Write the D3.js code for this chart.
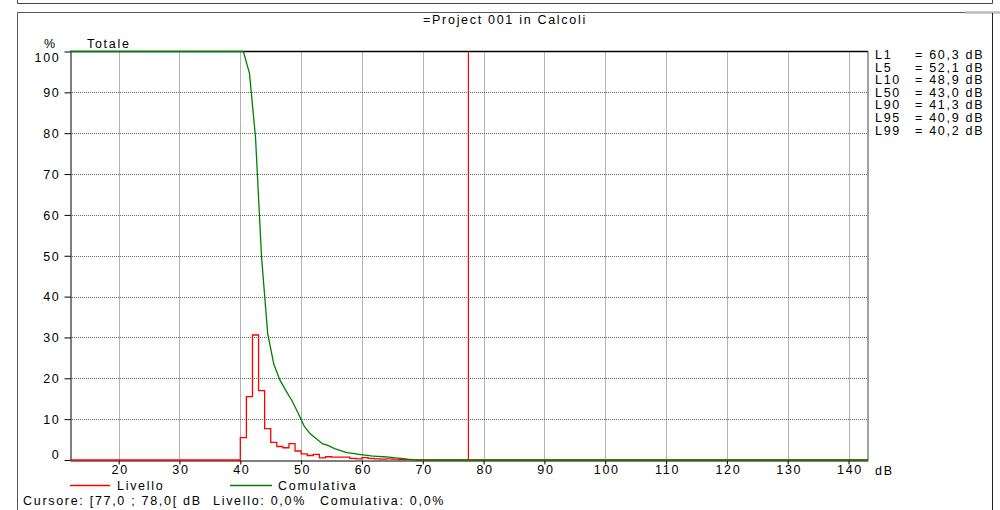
<!DOCTYPE html>
<html>
<head>
<meta charset="utf-8">
<script src="https://cdn.jsdelivr.net/npm/d3@7"></script>
<style>
body { margin: 0; background: #fff; }
svg { display: block; font-family: "Liberation Sans", Arial, sans-serif; }
text { font-size: 12.5px; letter-spacing: 1.7px; fill: #000; white-space: pre; }
</style>
</head>
<body>
<svg id="chart" width="1000" height="510"></svg>
<script>
// livello: percentuale per classe di 1 dB (inizio classe)
var binStart = [40, 41, 42, 43, 44, 45, 46, 47, 48, 49, 50, 51, 52, 53, 54, 55, 56, 57, 58, 59, 60, 61, 62, 63, 64, 65, 66, 67, 68, 69];
var livello = [5.5, 15.5, 30.6, 17.0, 7.7, 4.3, 3.3, 3.0, 4.0, 2.2, 1.5, 1.1, 1.4, 0.5, 0.8, 0.7, 0.7, 0.7, 0.4, 0.3, 0.6, 0.4, 0.3, 0.2, 0.3, 0.2, 0.1, 0.1, 0.1, 0];
// comulativa: letta a centro classe
var cumX = [12, 40.5, 41.5, 42.5, 43.5, 44.5, 45.5, 46.5, 47.5, 48.5, 49.5, 50.5, 51.5, 52.5, 53.5, 54.5, 55.5, 56.5, 57.5, 58.5, 59.5, 60.5, 61.5, 62.5, 63.5, 64.5, 65.5, 66.5, 67.5, 68.5, 69.5, 70.5, 143.2];
var comulativa = [100, 100, 94.7, 79, 49.5, 31, 23.5, 19.6, 17, 14.5, 11.5, 8.3, 6.4, 5.2, 4.0, 3.5, 2.8, 2.3, 1.8, 1.6, 1.4, 1.2, 1.0, 0.9, 0.8, 0.7, 0.5, 0.4, 0.2, 0.1, 0.05, 0, 0];
var xTicks = [20, 30, 40, 50, 60, 70, 80, 90, 100, 110, 120, 130, 140];
var yTicks = [0, 10, 20, 30, 40, 50, 60, 70, 80, 90, 100];
var lNames = ["L1", "L5", "L10", "L50", "L90", "L95", "L99"];
var lValues = ["60,3", "52,1", "48,9", "43,0", "41,3", "40,9", "40,2"];
var cursore = 77.5;

var svg = d3.select('#chart');

var xScale = d3.scaleLinear().domain([12, 143.2]).range([70, 868]);
var yScale = d3.scaleLinear().domain([0, 100]).range([460, 51.5]);

// cornici
svg.append('path').attr('d', 'M17.5,0 V3.5 H992.5 V0').attr('fill', 'none').attr('stroke', '#444');
svg.append('path').attr('d', 'M17.5,515 V12.5 H965').attr('fill', 'none').attr('stroke', '#555');
svg.append('path').attr('d', 'M965,12.5 H1000').attr('fill', 'none').attr('stroke', '#bbb').attr('stroke-width', 2.5);
svg.append('path').attr('d', 'M992.5,13 V515').attr('fill', 'none').attr('stroke', '#222');

svg.append('text').attr('x', 505).attr('y', 24).attr('text-anchor', 'middle').text('=Project 001 in Calcoli');

// griglia
var grid = svg.append('g');
grid.selectAll('.gy').data(yTicks.filter(d => d > 0 && d < 100)).enter().append('line')
    .attr('x1', 70).attr('x2', 868)
    .attr('y1', d => Math.round(yScale(d)) + 0.5).attr('y2', d => Math.round(yScale(d)) + 0.5)
    .attr('stroke', '#666').attr('stroke-dasharray', '1,1');
grid.selectAll('.gx').data(xTicks).enter().append('line')
    .attr('y1', 51.5).attr('y2', 460)
    .attr('x1', d => Math.round(xScale(d)) + 0.5).attr('x2', d => Math.round(xScale(d)) + 0.5)
    .attr('stroke', '#666').attr('stroke-dasharray', '1,1');

// assi
var xAxis = d3.axisBottom(xScale).tickValues(xTicks).tickSize(4).tickSizeOuter(0).tickFormat(d3.format('d'));
var xAxisGroup = svg.append('g').attr('transform', 'translate(0,460.5)').call(xAxis);
xAxisGroup.select('.domain').attr('stroke', '#000');
xAxisGroup.selectAll('text').attr('y', 5).attr('dy', '0.71em').attr('dx', 1);

var yAxis = d3.axisLeft(yScale).tickValues(yTicks).tickSize(6).tickSizeOuter(0);
var yAxisGroup = svg.append('g').attr('transform', 'translate(70.5,0)').call(yAxis);
yAxisGroup.select('.domain').attr('stroke', '#000');
yAxisGroup.selectAll('text').attr('x', -10)
    .attr('dy', d => d === 100 ? '0.8em' : (d === 0 ? '-0.15em' : '0.35em'));
yAxisGroup.selectAll('line').attr('stroke', '#000');

svg.append('line').attr('x1', 70).attr('x2', 868).attr('y1', 51.5).attr('y2', 51.5).attr('stroke', '#000').attr('stroke-width', 1.5);
svg.append('line').attr('x1', 868).attr('x2', 868).attr('y1', 51.5).attr('y2', 460).attr('stroke', '#444');

svg.append('text').attr('x', 44).attr('y', 48).text('%');
svg.append('text').attr('x', 87).attr('y', 48).text('Totale');
svg.append('text').attr('x', 875).attr('y', 475).text('dB');

// serie
var stepData = [[12, 0]].concat(binStart.map((d, i) => [d, livello[i]])).concat([[70, 0], [143.2, 0]]);
var redLine = d3.line().x(d => xScale(d[0])).y(d => yScale(d[1])).curve(d3.curveStepAfter);
svg.append('path').datum(stepData).attr('d', redLine)
    .attr('fill', 'none').attr('stroke', '#ff0000').attr('stroke-width', 1.3);

var greenLine = d3.line().x(d => xScale(d[0])).y(d => yScale(d[1]));
svg.append('path').datum(cumX.map((d, i) => [d, comulativa[i]])).attr('d', greenLine)
    .attr('fill', 'none').attr('stroke', '#008000').attr('stroke-width', 1.3);

svg.append('line').attr('x1', xScale(cursore)).attr('x2', xScale(cursore))
    .attr('y1', 51.5).attr('y2', 460).attr('stroke', '#ff0000').attr('stroke-width', 1.2);

// valori L
var lg = svg.append('g');
lNames.forEach(function(n, i) {
    lg.append('text').attr('x', 875).attr('y', 59 + i * 12.6).text(n);
    lg.append('text').attr('x', 915).attr('y', 59 + i * 12.6).text('= ' + lValues[i] + ' dB');
});

// legenda
svg.append('path').attr('d', 'M70,485.5 H110').attr('fill', 'none')
    .attr('stroke', '#ff0000').attr('stroke-width', 1.5);
svg.append('text').attr('x', 117).attr('y', 490).text('Livello');
svg.append('path').attr('d', 'M230,485.5 H272').attr('fill', 'none')
    .attr('stroke', '#008000').attr('stroke-width', 1.5);
svg.append('text').attr('x', 278).attr('y', 490).text('Comulativa');
svg.append('text').attr('x', 23).attr('y', 505).text('Cursore: [77,0 ; 78,0[ dB');
svg.append('text').attr('x', 213).attr('y', 505).text('Livello: 0,0%');
svg.append('text').attr('x', 320).attr('y', 505).text('Comulativa: 0,0%');
</script>
</body>
</html>
